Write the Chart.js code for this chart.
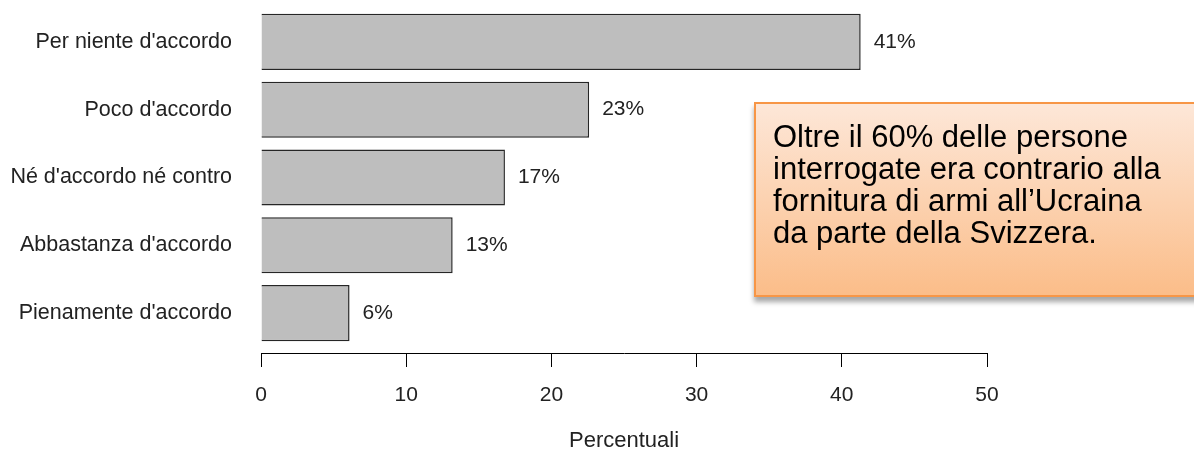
<!DOCTYPE html>
<html>
<head>
<meta charset="utf-8">
<script src="https://cdn.jsdelivr.net/npm/chart.js@4.4.1/dist/chart.umd.min.js"></script>
<style>
    html, body { margin: 0; padding: 0; background: #fff; }
    #wrap { position: relative; width: 1194px; height: 454px; overflow: hidden; }
    #note {
        position: absolute;
        left: 754px;
        top: 102px;
        width: 470px;
        height: 195px;
        border: 2px solid #f79646;
        background: linear-gradient(#fde7d8, #fbbd89);
        box-shadow: 0 5px 5px rgba(0, 0, 0, 0.35);
        font-family: "Liberation Sans", Arial, sans-serif;
        font-size: 31px;
        line-height: 32px;
        color: #000;
        padding: 17px 0 0 17px;
        box-sizing: border-box;
    }
</style>
</head>
<body>
<div id="wrap">
    <canvas id="barChart"></canvas>
    <div id="note">Oltre il 60% delle persone<br>interrogate era contrario alla<br>fornitura di armi all’Ucraina<br>da parte della Svizzera.</div>
</div>
<script>
// Risposte (dall'alto in basso)
var categories = ['Per niente d\'accordo', 'Poco d\'accordo', 'Né d\'accordo né contro', 'Abbastanza d\'accordo', 'Pienamente d\'accordo'];
var percentValues = [41.3, 22.6, 16.8, 13.2, 6.1];
var percentLabels = ['41%', '23%', '17%', '13%', '6%'];
var xTicks = [0, 10, 20, 30, 40, 50];

var FONT = '"Liberation Sans", Arial, sans-serif';

// Etichette con la percentuale a destra di ogni barra
var barLabels = {
    id: 'barLabels',
    afterDatasetsDraw: function (chart) {
        var ctx = chart.ctx;
        var meta = chart.getDatasetMeta(0);
        ctx.save();
        ctx.font = '21px ' + FONT;
        ctx.fillStyle = '#222';
        ctx.textAlign = 'left';
        ctx.textBaseline = 'middle';
        meta.data.forEach(function (bar, i) {
            ctx.fillText(percentLabels[i], bar.x + 13, bar.y);
        });
        ctx.restore();
    }
};

// Asse x staccato dalle barre come in R
var axisGap = {
    id: 'axisGap',
    afterLayout: function (chart) {
        chart.scales.x.top += 6;
    }
};

var ctx = document.getElementById('barChart');

var chart = new Chart(ctx, {
    type: 'bar',
    data: {
        labels: categories,
        datasets: [{
            data: percentValues,
            backgroundColor: '#bebebe',
            borderColor: '#262626',
            borderWidth: 1.5,
            barPercentage: 0.827,
            categoryPercentage: 1
        }]
    },
    options: {
        indexAxis: 'y',
        responsive: true,
        maintainAspectRatio: false,
        animation: false,
        layout: {
            padding: { top: 8, right: 207, bottom: 0, left: 0 }
        },
        plugins: {
            legend: { display: false },
            tooltip: { enabled: false }
        },
        scales: {
            y: {
                grid: { display: false, drawTicks: false },
                border: { display: false },
                ticks: {
                    padding: 29,
                    color: '#222',
                    font: { family: FONT, size: 21.5 }
                },
                afterFit: function (scale) {
                    scale.width = 261;
                    // il padding delle etichette non deve spostare l'area del grafico
                    scale.paddingTop = 0;
                    scale.paddingBottom = 0;
                }
            },
            x: {
                min: 0,
                max: 50,
                afterBuildTicks: function (scale) {
                    scale.ticks = xTicks.map(function (v) { return { value: v }; });
                },
                grid: {
                    drawOnChartArea: false,
                    drawTicks: true,
                    tickLength: 14,
                    color: '#000',
                    lineWidth: 1
                },
                border: { display: true, color: '#000', width: 1 },
                ticks: {
                    padding: 16,
                    color: '#222',
                    font: { family: FONT, size: 21 }
                },
                title: {
                    display: true,
                    text: 'Percentuali',
                    color: '#222',
                    font: { family: FONT, size: 22 },
                    padding: { top: 0, bottom: 0 }
                },
                afterFit: function (scale) { scale.height = 107; }
            }
        }
    },
    plugins: [barLabels, axisGap]
});
</script>
</body>
</html>
